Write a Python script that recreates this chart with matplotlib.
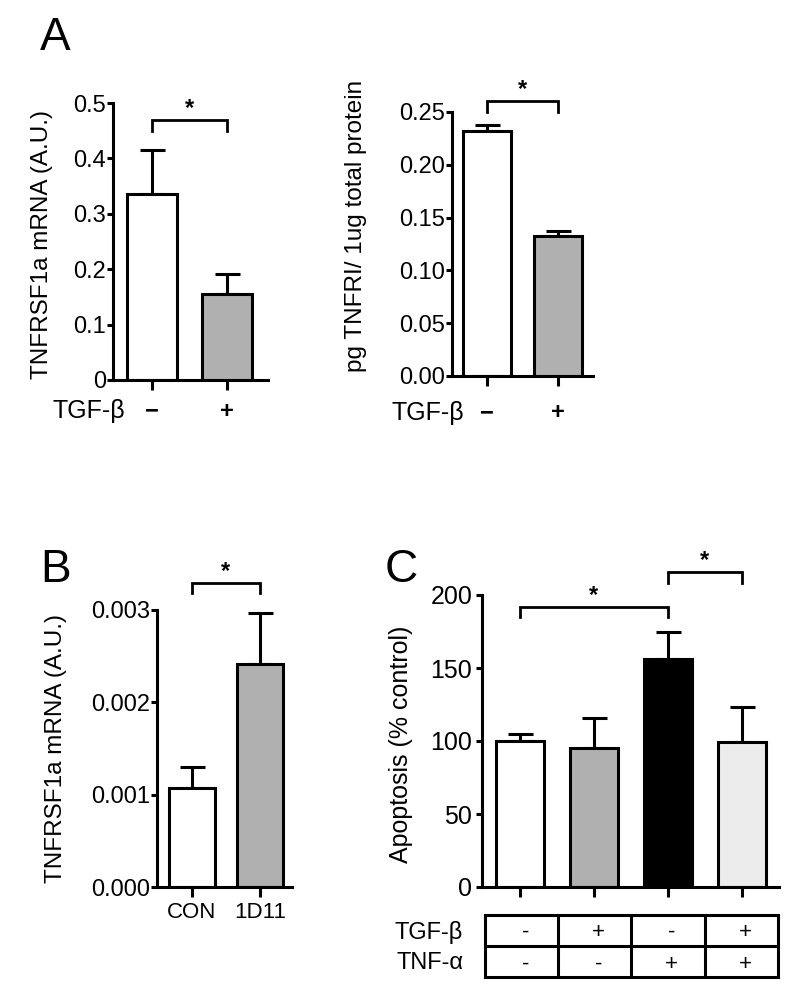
import matplotlib
matplotlib.use("Agg")
import matplotlib.pyplot as plt
import numpy as np

plt.rcParams['font.family'] = ['Liberation Sans', 'DejaVu Sans']

# ---- data ----
a1_means = [0.335, 0.155]
a1_errs = [0.080, 0.037]
a2_means = [0.232, 0.133]
a2_errs = [0.006, 0.004]
b_means = [0.00107, 0.00242]
b_errs = [0.00023, 0.00055]
b_labels = ["CON", "1D11"]
c_means = [100, 95, 156, 99]
c_errs = [5, 21, 19, 24]
tgf_a = ["\u2212", "+"]
c_tgf = ["-", "+", "-", "+"]
c_tnf = ["-", "-", "+", "+"]

W, H = 800, 999
fig = plt.figure(figsize=(8, 9.99), dpi=100)

def ax_at(x0, y0, x1, y1):
    # pixel box -> figure fraction
    return fig.add_axes([x0 / W, 1 - y1 / H, (x1 - x0) / W, (y1 - y0) / H])

LW = 2.2
TICKFS = 17
LABFS = 17.5

def style(ax):
    for s in ['top', 'right']:
        ax.spines[s].set_visible(False)
    for s in ['left', 'bottom']:
        ax.spines[s].set_linewidth(LW)
    ax.tick_params(axis='y', width=LW, length=4, labelsize=TICKFS, pad=1)
    ax.tick_params(axis='x', width=LW, length=7, labelsize=TICKFS)

def bars(ax, means, errs, colors, width):
    x = np.arange(len(means))
    ax.bar(x, means, width=width, color=colors, edgecolor='black', linewidth=LW, zorder=2)
    for xi, m, e in zip(x, means, errs):
        ax.errorbar(xi, m, yerr=[[0], [e]], fmt='none', ecolor='black',
                    elinewidth=LW, capsize=9, capthick=LW, zorder=1)
    ax.set_xticks(x)
    ax.set_xticklabels([])
    return x

def bracket(ax, x0, x1, ytop, ybot):
    ax.plot([x0, x0, x1, x1], [ybot, ytop, ytop, ybot], color='black', lw=2.0,
            clip_on=False, solid_joinstyle='miter')
    ax.text((x0 + x1) / 2, ytop, "*", ha='center', va='bottom', fontsize=17, fontweight='bold')

# Panel A left
ax1 = ax_at(113, 103, 268, 380)
style(ax1)
bars(ax1, a1_means, a1_errs, ['white', '#b0b0b0'], 0.67)
ax1.set_xlim(-0.52, 1.55)
ax1.set_ylim(0, 0.5)
ax1.set_yticks([0, 0.1, 0.2, 0.3, 0.4, 0.5])
ax1.set_yticklabels(["0", "0.1", "0.2", "0.3", "0.4", "0.5"])
ax1.set_ylabel("TNFRSF1a mRNA (A.U.)", fontsize=LABFS)
ax1.yaxis.set_label_coords(-0.39, 0.49)
bracket(ax1, 0, 1, 0.47, 0.45)
ax1.text(-1.33, -0.056, "TGF-\u03b2", fontsize=18, ha='left', va='center')
for i, t in enumerate(tgf_a):
    ax1.text(i, -0.056, t, fontsize=TICKFS, ha='center', va='center', fontweight='bold')

# Panel A right
ax2 = ax_at(452, 112, 593, 376)
style(ax2)
bars(ax2, a2_means, a2_errs, ['white', '#b0b0b0'], 0.68)
ax2.set_xlim(-0.49, 1.49)
ax2.set_ylim(0, 0.25)
ax2.set_yticks([0, 0.05, 0.10, 0.15, 0.20, 0.25])
ax2.set_yticklabels(["0.00", "0.05", "0.10", "0.15", "0.20", "0.25"])
ax2.set_ylabel("pg TNFRI/ 1ug total protein", fontsize=LABFS)
ax2.yaxis.set_label_coords(-0.60, 0.57)
bracket(ax2, 0, 1, 0.260, 0.250)
ax2.text(-1.34, -0.035, "TGF-\u03b2", fontsize=18, ha='left', va='center')
for i, t in enumerate(tgf_a):
    ax2.text(i, -0.035, t, fontsize=TICKFS, ha='center', va='center', fontweight='bold')

# Panel B
ax3 = ax_at(157, 610, 292, 887)
style(ax3)
x = bars(ax3, b_means, b_errs, ['white', '#b0b0b0'], 0.68)
ax3.set_xticklabels(b_labels)
ax3.tick_params(axis='x', labelsize=16, pad=4)
ax3.set_xlim(-0.51, 1.47)
ax3.set_ylim(0, 0.003)
ax3.set_yticks([0, 0.001, 0.002, 0.003])
ax3.set_yticklabels(["0.000", "0.001", "0.002", "0.003"])
ax3.set_ylabel("TNFRSF1a mRNA (A.U.)", fontsize=LABFS)
ax3.yaxis.set_label_coords(-0.667, 0.5)
bracket(ax3, 0, 1, 0.00329, 0.00318)

# Panel C
ax4 = ax_at(482, 595, 779, 887)
style(ax4)
ax4.tick_params(axis='y', labelsize=18, pad=3)
bars(ax4, c_means, c_errs, ['white', '#b0b0b0', 'black', '#ececec'], 0.65)
ax4.set_xlim(-0.51, 3.5)
ax4.set_ylim(0, 200)
ax4.set_yticks([0, 50, 100, 150, 200])
ax4.set_ylabel("Apoptosis (% control)", fontsize=18)
ax4.yaxis.set_label_coords(-0.232, 0.49)
bracket(ax4, 0, 2, 192, 185)
bracket(ax4, 2, 3, 216, 208)

# Table under C
axt = ax_at(485, 915, 778, 977)
axt.set_xlim(0, 4)
axt.set_ylim(0, 2)
axt.set_xticks([])
axt.set_yticks([])
for s in axt.spines.values():
    s.set_linewidth(LW)
for xv in [1, 2, 3]:
    axt.axvline(xv, color='black', lw=LW)
axt.axhline(1, color='black', lw=LW)
for i in range(4):
    axt.text(i + 0.55, 1.45, c_tgf[i], fontsize=16, ha='center', va='center')
    axt.text(i + 0.55, 0.4, c_tnf[i], fontsize=16, ha='center', va='center')
axt.text(-0.3, 1.45, "TGF-\u03b2", fontsize=17, ha='right', va='center')
axt.text(-0.3, 0.45, "TNF-\u03b1", fontsize=17, ha='right', va='center')

# Panel letters
fig.text(40 / W, 1 - 50 / H, "A", fontsize=33, ha='left', va='baseline')
fig.text(40 / W, 1 - 582 / H, "B", fontsize=33, ha='left', va='baseline')
fig.text(385 / W, 1 - 582 / H, "C", fontsize=33, ha='left', va='baseline')

fig.savefig("out.png", dpi=100)
